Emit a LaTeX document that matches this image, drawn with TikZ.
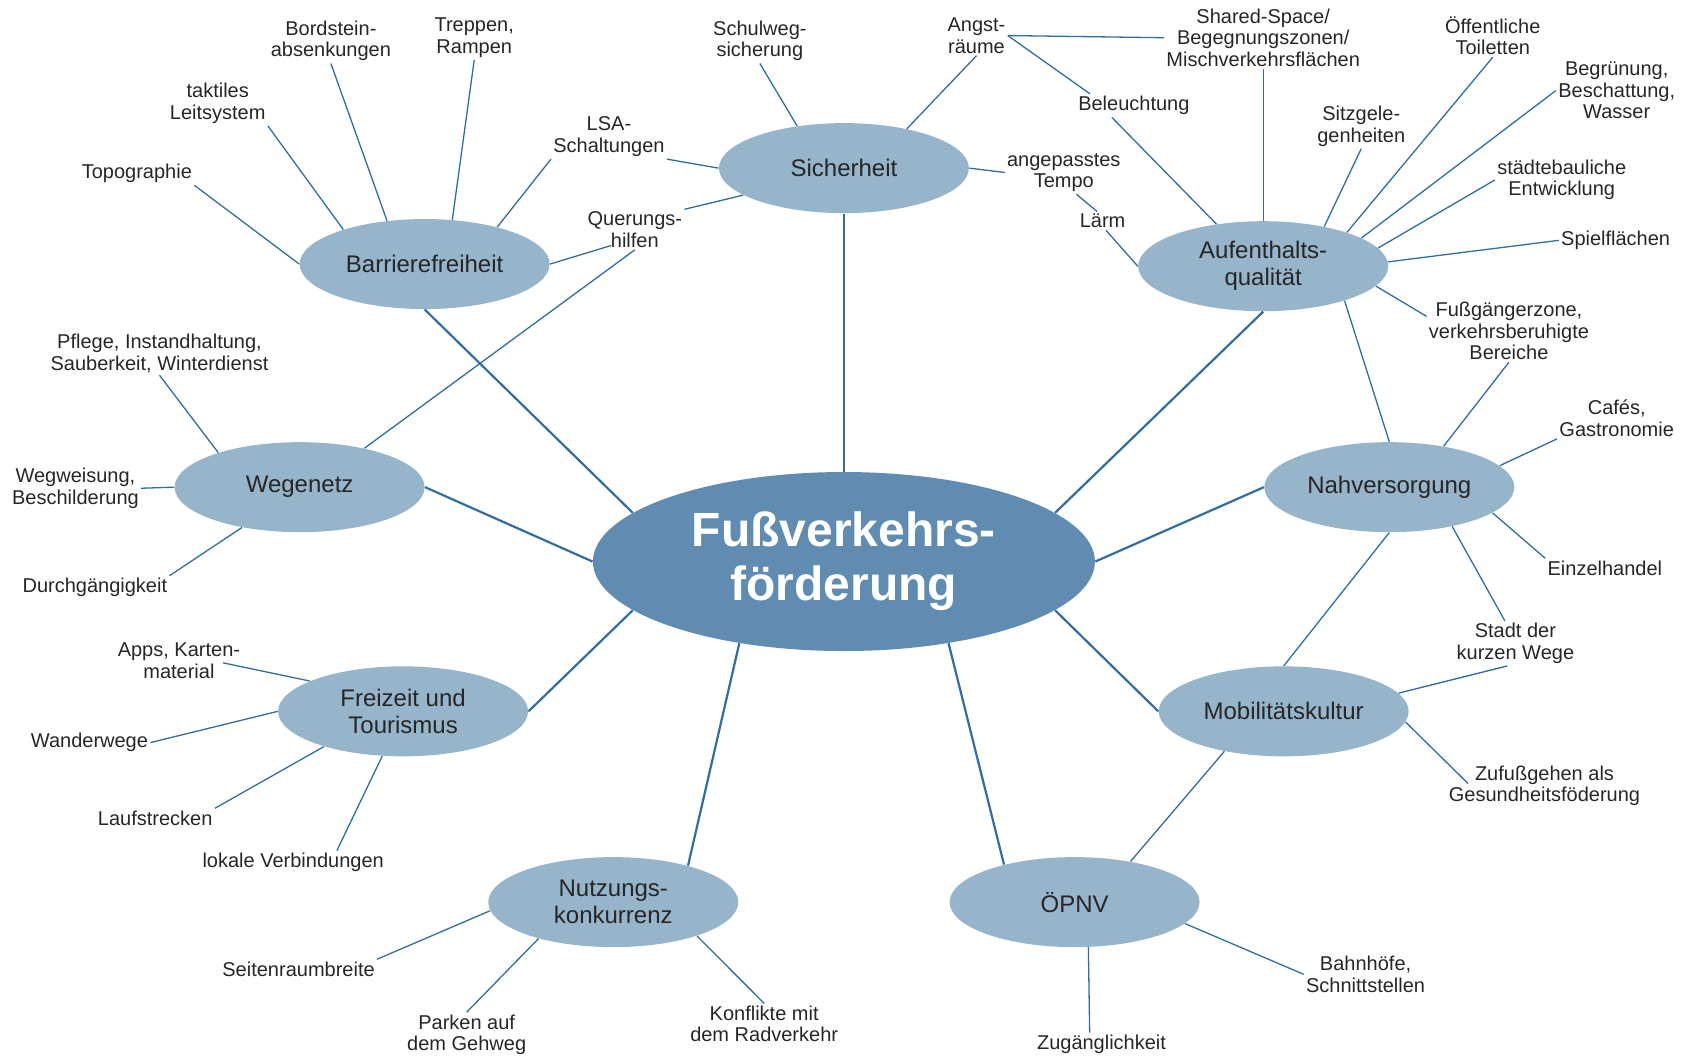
\documentclass[tikz,border=0pt]{standalone}
\usepackage{fontspec}
\setmainfont{Liberation Sans}
\usetikzlibrary{shapes.geometric,calc}
\definecolor{hubblue}{HTML}{5F8CB0}
\definecolor{topicblue}{HTML}{96B4CA}
\definecolor{linkblue}{HTML}{2F6DA3}
\definecolor{textgray}{HTML}{262626}
\tikzset{
    hub/.style={ellipse, fill=hubblue, inner sep=0pt, minimum width=251pt, minimum height=89.5pt,
            text=white, align=center, font=\fontsize{24}{27}\selectfont\bfseries},
    topic/.style={ellipse, fill=topicblue, inner sep=0pt, minimum width=125pt, minimum height=45pt,
            text=textgray, align=center, font=\fontsize{12}{13.5}\selectfont},
    leaf/.style={inner sep=1pt, text=textgray, align=center, font=\fontsize{10}{10.8}\selectfont},
    spoke/.style={draw=linkblue, line width=1.1pt},
    link/.style={draw=linkblue, line width=0.65pt},
}

\begin{document}
\begin{tikzpicture}[x=0.5389pt, y=-0.5389pt]
        \useasboundingbox (0,0) rectangle (1568,980);
        %draw main topics
        \node[hub] (foerd) at (783,521) {Fußverkehrs-\\förderung};
        \node[topic] (sich) at (783,156) {Sicherheit};
        \node[topic] (barr) at (394,245) {Barrierefreiheit};
        \node[topic] (aufe) at (1172,247) {Aufenthalts-\\qualität};
        \node[topic] (wege) at (278,452) {Wegenetz};
        \node[topic] (nahv) at (1289,452) {Nahversorgung};
        \node[topic] (frei) at (374,660) {Freizeit und\\Tourismus};
        \node[topic] (mobi) at (1191,660) {Mobilitätskultur};
        \node[topic] (nutz) at (569,837) {Nutzungs-\\konkurrenz};
        \node[topic] (oepnv) at (997,837) {ÖPNV};
        %draw spokes
        \draw[spoke] (foerd.north) -- (sich.south);
        \draw[spoke] (foerd.167) -- (barr.south);
        \draw[spoke] (foerd.13) -- (aufe.south);
        \draw[spoke] (foerd.west) -- (wege.east);
        \draw[spoke] (foerd.east) -- (nahv.west);
        \draw[spoke] (foerd.193) -- (frei.east);
        \draw[spoke] (foerd.347) -- (mobi.west);
        \draw[spoke] (foerd.218) -- (nutz.26);
        \draw[spoke] (foerd.322) -- (oepnv.152);
        %draw links between topics
        \draw[link] (aufe.337) -- (nahv.north);
        \draw[link] (nahv.south) -- (mobi.north);
        \draw[link] (mobi.214) -- (oepnv.36);
        %Barrierefreiheit
        \node[leaf] (topo) at (127,161) {Topographie};
        \node[leaf] (takt) at (202,96) {taktiles\\Leitsystem};
        \node[leaf] (bord) at (307,38) {Bordstein-\\absenkungen};
        \node[leaf] (trep) at (440,35) {Treppen,\\Rampen};
        \node[leaf] (lsa) at (565,127) {LSA-\\Schaltungen};
        \node[leaf] (quer) at (589,213) {Querungs-\\hilfen};
        \draw[link] (topo.south east) -- (barr.west);
        \draw[link] (takt.south east) -- (barr.157);
        \draw[link] (bord.south) -- (barr.131);
        \draw[link] (trep.south) -- (barr.58);
        \draw[link] (lsa.south west) -- (barr.27);
        \draw[link] ($(quer.south)+(-22,-4)$) -- (barr.east);
        %Sicherheit
        \node[leaf] (schu) at (705,38) {Schulweg-\\sicherung};
        \node[leaf] (angs) at (906,33) {Angst-\\räume};
        \node[leaf] (temp) at (987,160) {angepasstes\\Tempo};
        \draw[link] (schu.south) -- (sich.138);
        \draw[link] (angs.south) -- (sich.32);
        \draw[link] (lsa.south east) -- (sich.west);
        \draw[link] (quer.north east) -- (sich.195);
        \draw[link] (temp.west) -- (sich.east);
        \draw[link] (quer.south) -- (wege.31);
        %Aufenthaltsqualitaet
        \node[leaf] (shar) at (1172,35) {Shared-Space/\\Begegnungszonen/\\Mischverkehrsflächen};
        \node[leaf] (bele) at (1052,98) {Beleuchtung};
        \node[leaf] (laerm) at (1023,205) {Lärm};
        \node[leaf] (sitz) at (1263,117) {Sitzgele-\\genheiten};
        \node[leaf] (toil) at (1385,33) {Öffentliche\\Toiletten};
        \node[leaf] (begr) at (1500,84) {Begrünung,\\Beschattung,\\Wasser};
        \node[leaf] (staed) at (1449,167) {städtebauliche\\Entwicklung};
        \node[leaf] (spiel) at (1499,223) {Spielflächen};
        \node[leaf] (zone) at (1400,307) {Fußgängerzone,\\verkehrsberuhigte\\Bereiche};
        \draw[link] (angs.east) -- (shar.west);
        \draw[link] (angs.east) -- (bele.165);
        \draw[link] (bele.208) -- (aufe.138);
        \draw[link] (shar.south) -- (aufe.north);
        \draw[link] (temp.-60) -- (laerm.120);
        \draw[link] (laerm.-70) -- (aufe.west);
        \draw[link] (sitz.south) -- (aufe.33);
        \draw[link] (toil.south) -- (aufe.22);
        \draw[link] (begr.west) -- (aufe.16);
        \draw[link] (staed.west) -- (aufe.9);
        \draw[link] (spiel.west) -- (aufe.2);
        \draw[link] (zone.170) -- (aufe.350);
        %Nahversorgung
        \node[leaf] (cafe) at (1500,388) {Cafés,\\Gastronomie};
        \node[leaf] (einz) at (1489,527) {Einzelhandel};
        \node[leaf] (stadt) at (1406,597) {Stadt der\\kurzen Wege};
        \draw[link] (zone.south) -- (nahv.37);
        \draw[link] (cafe.south west) -- (nahv.11);
        \draw[link] (einz.north west) -- (nahv.346);
        \draw[link] (stadt.115) -- (nahv.328);
        %Mobilitaetskultur
        \node[leaf] (zufu) at (1433,729) {Zufußgehen als\\Gesundheitsföderung};
        \draw[link] (stadt.250) -- (mobi.9);
        \draw[link] ($(zufu.west)+(20,-2)$) -- (mobi.355);
        %OePNV
        \node[leaf] (bahn) at (1267,904) {Bahnhöfe,\\Schnittstellen};
        \node[leaf] (zuga) at (1022,969) {Zugänglichkeit};
        \draw[link] (bahn.west) -- (oepnv.349);
        \draw[link] ($(zuga.north)+(-11,0)$) -- (oepnv.287);
        %Nutzungskonkurrenz
        \node[leaf] (seit) at (277,899) {Seitenraumbreite};
        \node[leaf] (park) at (433,960) {Parken auf\\dem Gehweg};
        \node[leaf] (konf) at (709,950) {Konflikte mit\\dem Radverkehr};
        \draw[link] (seit.north east) -- (nutz.184);
        \draw[link] (park.north) -- (nutz.206);
        \draw[link] (konf.north) -- (nutz.338);
        %Freizeit und Tourismus
        \node[leaf] (apps) at (166,613) {Apps, Karten-\\material};
        \node[leaf] (wand) at (83,689) {Wanderwege};
        \node[leaf] (lauf) at (144,759) {Laufstrecken};
        \node[leaf] (loka) at (272,800) {lokale Verbindungen};
        \draw[link] ($(apps.center)+(41,2)$) -- (frei.162);
        \draw[link] (wand.east) -- (frei.west);
        \draw[link] (lauf.north east) -- (frei.204);
        \draw[link] (loka.15) -- (frei.245);
        %Wegenetz
        \node[leaf] (pfle) at (148,328) {Pflege, Instandhaltung,\\Sauberkeit, Winterdienst};
        \node[leaf] (wegw) at (70,453) {Wegweisung,\\Beschilderung};
        \node[leaf] (durc) at (88,545) {Durchgängigkeit};
        \draw[link] (pfle.south) -- (wege.157);
        \draw[link] (wegw.east) -- (wege.west);
        \draw[link] (durc.north east) -- (wege.215);
    \end{tikzpicture}
\end{document}
